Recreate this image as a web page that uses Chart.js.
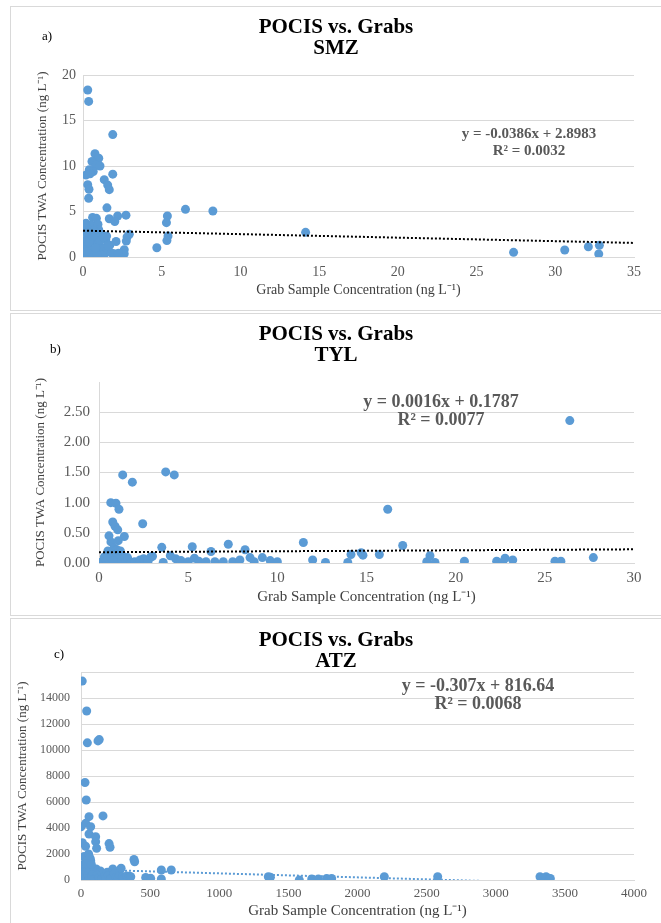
<!DOCTYPE html>
<html>
<head>
<meta charset="utf-8">
<script src="https://cdn.jsdelivr.net/npm/chart.js@4.4.1/dist/chart.umd.min.js"></script>
<style>
  body { margin: 0; background: #fff; width: 661px; height: 923px; overflow: hidden; position: relative;
         font-family: 'Liberation Serif', 'Times New Roman', serif; }
  .frame { position: absolute; left: 10px; width: 660px; border: 1px solid #d9d9d9; box-sizing: border-box; }
  canvas { position: absolute; left: 0; }
  .ttl { position: absolute; left: 186px; width: 300px; text-align: center; font-weight: bold; font-size: 21px; line-height: 21px; color: #000; }
  .tag { position: absolute; font-size: 13px; line-height: 13px; color: #000; }
  .eq { position: absolute; width: 300px; text-align: center; font-weight: bold; color: #595959; white-space: nowrap; }
</style>
</head>
<body>
<div class="frame" style="top:6px;height:305px"></div>
<div class="frame" style="top:313px;height:303px"></div>
<div class="frame" style="top:618px;height:310px"></div>

<canvas id="smzChart" width="661" height="305" style="top:6px"></canvas>
<canvas id="tylChart" width="661" height="304" style="top:313px"></canvas>
<canvas id="atzChart" width="661" height="305" style="top:618px"></canvas>

<div class="ttl" style="top:16px">POCIS vs. Grabs<br>SMZ</div>
<div class="ttl" style="top:323px">POCIS vs. Grabs<br>TYL</div>
<div class="ttl" style="top:629px">POCIS vs. Grabs<br>ATZ</div>

<div class="tag" style="left:42px;top:29px">a)</div>
<div class="tag" style="left:50px;top:342px">b)</div>
<div class="tag" style="left:54px;top:647px">c)</div>

<div class="eq" style="left:379px;top:125px;font-size:15px;line-height:17px">y = -0.0386x + 2.8983<br>R² = 0.0032</div>
<div class="eq" style="left:291px;top:392px;font-size:18px;line-height:18px">y = 0.0016x + 0.1787<br>R² = 0.0077</div>
<div class="eq" style="left:328px;top:676px;font-size:18px;line-height:18px">y = -0.307x + 816.64<br>R² = 0.0068</div>

<script>
// SMZ (a)
const smzGrab = [0.30, 0.36, 1.89, 0.76, 1.00, 0.57, 0.83, 1.08, 0.40, 0.65, 0.19, 0.45, 1.89, 1.35, 1.57, 1.67,
  0.30, 0.38, 0.36, 1.52, 0.61, 0.85, 1.67, 2.20, 2.73, 2.02, 0.19, 0.50, 0.10, 0.95, 0.35, 2.94, 2.80, 2.75,
  2.62, 2.62, 2.10, 1.98, 4.69, 5.36, 5.30, 5.40, 5.33, 6.51, 8.25, 14.14, 27.35, 30.60, 32.10, 32.80, 32.76,
  0.00, 0.05, 0.10, 0.15, 0.25, 0.30, 0.45, 0.55, 0.65, 0.75, 0.85, 0.95, 1.05, 1.15, 1.25, 1.35, 1.45, 1.55,
  1.70, 1.80, 1.20, 0.50, 0.30, 2.25, 1.00, 0.20, 0.70, 1.50, 0.10, 0.40, 0.60, 0.90, 1.10, 1.30, 0.20, 0.80, 1.60];
const smzPocis = [18.35, 17.1, 13.45, 11.35, 10.85, 10.5, 10.1, 10.0, 9.6, 9.4, 9.0, 9.15, 9.1, 8.5, 7.9, 7.4,
  7.95, 7.45, 6.45, 5.4, 4.35, 4.25, 4.2, 4.5, 4.6, 3.9, 3.7, 3.5, 3.3, 3.6, 3.0, 2.5, 2.2, 1.75,
  0.8, 0.35, 1.7, 0.35, 1.02, 4.5, 3.77, 2.3, 1.8, 5.24, 5.05, 2.71, 0.51, 0.77, 1.13, 1.28, 0.33,
  1.0, 1.4, 0.5, 0.25, 2.0, 1.2, 2.6, 0.8, 1.8, 0.4, 2.2, 1.4, 0.6, 2.5, 1.0, 0.3, 1.9, 0.7,
  1.3, 0.45, 0.2, 0.45, 0.9, 0.4, 3.0, 2.7, 2.9, 2.3, 3.6, 1.6, 2.3, 0.25, 1.8, 2.2, 0.6, 1.0, 1.2];
const smzTrend = [-0.0386, 2.8983];
const smzXTicks = [0, 5, 10, 15, 20, 25, 30, 35];
const smzYTicks = [0, 5, 10, 15, 20];

// TYL (b)
const tylGrab = [1.33, 1.87, 3.74, 4.22, 0.66, 0.95, 1.12, 0.77, 0.90, 1.05, 2.45, 0.56, 1.42, 0.67, 1.08, 0.85,
  0.50, 1.00, 3.52, 5.23, 6.28, 7.25, 8.19, 11.46, 16.19, 17.03, 26.40, 27.72, 3.60, 4.00, 4.30, 4.60, 5.00,
  5.35, 5.60, 6.00, 6.50, 6.97, 7.50, 7.90, 8.47, 8.70, 9.16, 9.60, 10.00, 11.98, 12.70, 13.95, 14.13, 14.70,
  14.80, 15.72, 18.38, 18.56, 18.84, 20.49, 22.30, 22.64, 22.77, 23.20, 25.57, 25.90,
  0.00, 0.20, 0.40, 0.50, 0.60, 0.70, 0.90, 1.10, 1.30, 1.50, 1.60, 1.80, 2.00, 2.30, 2.50, 2.70, 2.90, 1.00,
  0.30, 0.80, 1.20, 2.75, 3.00];
const tylPocis = [1.46, 1.34, 1.51, 1.46, 1.00, 0.99, 0.89, 0.68, 0.61, 0.55, 0.65, 0.45, 0.44, 0.35, 0.37, 0.25,
  0.20, 0.22, 0.26, 0.27, 0.19, 0.31, 0.22, 0.34, 0.89, 0.29, 2.36, 0.09, 0.01, 0.12, 0.07, 0.04, 0.02,
  0.08, 0.03, 0.02, 0.02, 0.02, 0.02, 0.05, 0.09, 0.02, 0.09, 0.04, 0.02, 0.05, 0.01, 0.01, 0.14, 0.17,
  0.13, 0.14, 0.02, 0.12, 0.01, 0.03, 0.03, 0.01, 0.08, 0.05, 0.03, 0.03,
  0.01, 0.02, 0.05, 0.12, 0.02, 0.08, 0.01, 0.05, 0.12, 0.03, 0.09, 0.01, 0.02, 0.05, 0.07, 0.01, 0.10, 0.15,
  0.10, 0.04, 0.20, 0.03, 0.11];
const tylTrend = [0.0016, 0.1787];
const tylXTicks = [0, 5, 10, 15, 20, 25, 30];
const tylYTicks = [0, 0.5, 1, 1.5, 2, 2.5];

// ATZ (c)
const atzGrab = [9, 41, 46, 123, 132, 29, 38, 58, 159, 0, 34, 70, 58, 106, 106, 113, 203, 210, 10, 33, 383, 388,
  22, 36, 70, 581, 653, 468, 504, 581, 1355, 1370, 1579, 1669, 1717, 1777, 1813, 2194, 2580, 3320, 3364, 3387, 3395,
  0, 5, 10, 15, 20, 25, 30, 35, 45, 50, 60, 70, 80, 90, 100, 110, 120, 130, 140, 150, 160, 170, 180, 190, 200,
  215, 230, 240, 255, 270, 280, 290, 300, 310, 330, 350, 360, 55, 65, 40, 75];
const atzPocis = [15300, 13000, 10550, 10700, 10800, 7500, 6150, 4870, 4930, 4100, 4360, 4100, 3540, 3330, 2950,
  2440, 2800, 2520, 2870, 2600, 1580, 1400, 1800, 1400, 1500, 770, 770, 200, 130, 80, 250, 220, 0, 80, 80, 120,
  120, 250, 250, 250, 250, 100, 120,
  300, 100, 900, 500, 1200, 200, 700, 50, 1000, 400, 150, 800, 300, 600, 100, 850, 400, 200, 700, 50, 500, 250,
  150, 600, 350, 100, 850, 500, 200, 150, 400, 900, 250, 100, 300, 280, 250, 2000, 1700, 1250, 1200];
const atzTrend = [-0.307, 816.64];
const atzXTicks = [0, 500, 1000, 1500, 2000, 2500, 3000, 3500, 4000];
const atzYTicks = [0, 2000, 4000, 6000, 8000, 10000, 12000, 14000, 16000];

const serif = "'Liberation Serif', 'Times New Roman', serif";
const dotBlue = '#5b9bd5';

function drawPanel(id, p) {
  const pts = p.grab.map((g, i) => ({ x: g, y: p.pocis[i] }));
  const xEnd = p.xTicks[p.xTicks.length - 1];
  const trendPts = [
    { x: 0, y: p.trend[1] },
    { x: xEnd, y: p.trend[0] * xEnd + p.trend[1] }
  ];
  const yTop = p.yTicks[p.yTicks.length - 1];

  new Chart(document.getElementById(id), {
    type: 'scatter',
    data: {
      datasets: [{
        data: trendPts,
        showLine: true,
        borderColor: p.trendColor,
        borderDash: [2, 2],
        borderWidth: 2,
        pointRadius: 0,
        order: 0
      }, {
        data: pts,
        backgroundColor: dotBlue,
        borderColor: dotBlue,
        borderWidth: 0,
        pointRadius: 4.5,
        order: 1
      }]
    },
    options: {
      responsive: false,
      animation: false,
      devicePixelRatio: 1,
      events: [],
      layout: { padding: p.pad },
      plugins: { legend: { display: false }, tooltip: { enabled: false } },
      scales: {
        x: {
          type: 'linear', min: 0, max: xEnd,
          afterBuildTicks: s => { s.ticks = p.xTicks.map(v => ({ value: v })); },
          afterFit: s => { s.height = p.xH; },
          ticks: {
            color: '#595959', font: { family: serif, size: p.xFont }, padding: p.xPad, maxRotation: 0,
            callback: v => String(v)
          },
          grid: { display: false, drawTicks: false },
          border: { display: true, color: '#d9d9d9', width: 1 },
          title: {
            display: true, text: 'Grab Sample Concentration (ng L⁻¹)', color: '#404040',
            font: { family: serif, size: p.xTitleFont, lineHeight: 1.2 },
            padding: { top: 0, bottom: p.xTitlePad }
          }
        },
        y: {
          min: 0, max: yTop,
          afterBuildTicks: s => { s.ticks = p.yTicks.map(v => ({ value: v })); },
          afterFit: s => { s.width = p.yW; },
          ticks: {
            color: '#595959', font: { family: serif, size: p.yFont }, padding: p.yPad,
            callback: v => (p.hideTop && v === yTop) ? '' : p.fmt(v)
          },
          grid: {
            drawTicks: false,
            color: c => (p.hideTopGrid && c.tick && c.tick.value === yTop) ? 'rgba(0,0,0,0)' : '#d9d9d9'
          },
          border: { display: true, color: '#d9d9d9', width: 1 },
          title: {
            display: true, text: 'POCIS TWA Concentration (ng L⁻¹)', color: '#404040',
            font: { family: serif, size: 13, lineHeight: 1.2 },
            padding: { top: 7, bottom: 0 }
          }
        }
      }
    }
  });
}

drawPanel('smzChart', {
  grab: smzGrab, pocis: smzPocis, trend: smzTrend, xTicks: smzXTicks, yTicks: smzYTicks,
  trendColor: '#000', pad: { top: 69, left: 28, right: 27, bottom: 5 }, yW: 55, xH: 49,
  xFont: 14, xPad: 7, xTitleFont: 14, xTitlePad: 7, yFont: 14, yPad: 7,
  hideTop: false, hideTopGrid: false, fmt: v => String(v)
});

drawPanel('tylChart', {
  grab: tylGrab, pocis: tylPocis, trend: tylTrend, xTicks: tylXTicks, yTicks: [...tylYTicks, 3],
  trendColor: '#000', pad: { top: 69, left: 26, right: 27, bottom: 5 }, yW: 73, xH: 49,
  xFont: 15, xPad: 6, xTitleFont: 15, xTitlePad: 6, yFont: 15, yPad: 9,
  hideTop: true, hideTopGrid: true, fmt: v => v.toFixed(2)
});

drawPanel('atzChart', {
  grab: atzGrab, pocis: atzPocis, trend: atzTrend, xTicks: atzXTicks, yTicks: atzYTicks,
  trendColor: dotBlue, pad: { top: 54, left: 8, right: 27, bottom: 3 }, yW: 73, xH: 40,
  xFont: 13, xPad: 6, xTitleFont: 15, xTitlePad: 0, yFont: 12, yPad: 11,
  hideTop: true, hideTopGrid: false, fmt: v => String(v)
});
</script>
</body>
</html>
